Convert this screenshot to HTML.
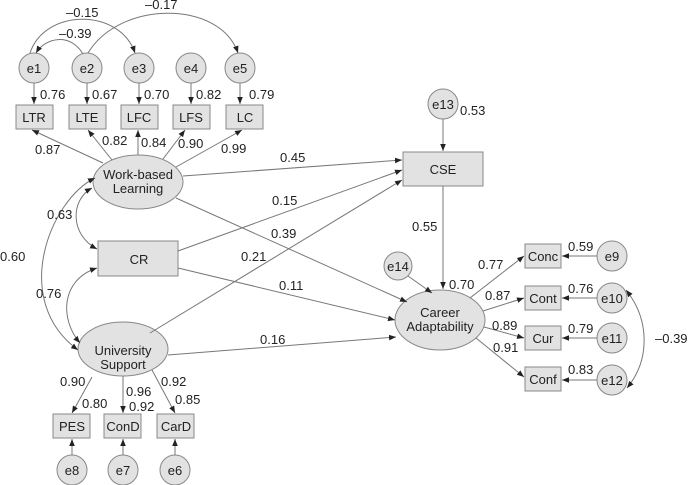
<!DOCTYPE html>
<html><head><meta charset="utf-8"><style>
html,body{margin:0;padding:0;background:#fff;}
svg{display:block;}
text{font-family:"Liberation Sans",Arial,sans-serif;font-size:13px;fill:#222;}
.n{text-anchor:middle;}
</style></head><body>
<svg width="688" height="485" viewBox="0 0 688 485" xmlns="http://www.w3.org/2000/svg">
<defs><marker id="a" viewBox="0 0 10 10" refX="10" refY="5" markerWidth="7" markerHeight="7" orient="auto-start-reverse"><path d="M0,1 L10,5 L0,9 z" fill="#222"/></marker></defs>
<g stroke="#888" fill="#e2e2e2" stroke-width="1">
<circle cx="34" cy="68" r="15"/><circle cx="87" cy="68" r="15"/><circle cx="139" cy="68" r="15"/><circle cx="191" cy="68" r="15"/><circle cx="240" cy="68" r="15"/>
<rect x="16" y="105" width="37" height="24"/><rect x="69" y="105" width="37" height="24"/><rect x="121" y="105" width="37" height="24"/><rect x="173" y="105" width="37" height="24"/><rect x="226" y="105" width="37" height="24"/>
<ellipse cx="138" cy="182" rx="45" ry="27"/>
<rect x="403" y="152" width="80" height="34"/>
<circle cx="443" cy="104" r="15"/>
<rect x="98" y="241" width="80" height="35"/>
<ellipse cx="440" cy="320" rx="45" ry="30"/>
<circle cx="398" cy="266" r="14"/>
<rect x="525" y="244" width="36" height="24"/><rect x="525" y="286" width="36" height="24"/><rect x="525" y="326" width="36" height="24"/><rect x="525" y="367" width="36" height="24"/>
<circle cx="612" cy="256" r="15"/><circle cx="612" cy="298" r="15"/><circle cx="612" cy="338" r="15"/><circle cx="612" cy="380" r="15"/>
<ellipse cx="123" cy="349" rx="45" ry="27"/>
<rect x="53" y="414" width="37" height="24"/><rect x="104" y="414" width="37" height="24"/><rect x="157" y="414" width="37" height="24"/>
<circle cx="72" cy="470" r="15"/><circle cx="123" cy="470" r="15"/><circle cx="175" cy="470" r="15"/>
</g>
<g stroke="#777" fill="none" stroke-width="1" marker-end="url(#a)">
<line x1="34" y1="83" x2="34" y2="104"/><line x1="87" y1="83" x2="87" y2="104"/><line x1="139" y1="83" x2="139" y2="104"/><line x1="191" y1="83" x2="191" y2="104"/><line x1="240" y1="83" x2="240" y2="104"/>
<line x1="103" y1="163" x2="32" y2="130"/><line x1="112" y1="160" x2="88" y2="130"/><line x1="138" y1="155" x2="138" y2="130"/><line x1="163" y1="159" x2="185" y2="130"/><line x1="176" y1="167" x2="242" y2="130"/>
<line x1="183" y1="176" x2="402" y2="160"/>
<line x1="178" y1="251" x2="402" y2="170"/>
<line x1="150" y1="333" x2="402" y2="180"/>
<line x1="176" y1="198" x2="407" y2="302"/>
<line x1="178" y1="268" x2="395" y2="320"/>
<line x1="168" y1="355" x2="396" y2="337"/>
<line x1="443" y1="119" x2="443" y2="151"/>
<line x1="443" y1="186" x2="443" y2="289"/>
<line x1="408" y1="276" x2="432" y2="293"/>
<line x1="470" y1="298" x2="524" y2="256"/><line x1="483" y1="311" x2="524" y2="298"/><line x1="484" y1="327" x2="524" y2="338"/><line x1="476" y1="338" x2="524" y2="377"/>
<line x1="597" y1="256" x2="562" y2="256"/><line x1="597" y1="298" x2="562" y2="298"/><line x1="597" y1="338" x2="562" y2="338"/><line x1="597" y1="380" x2="562" y2="380"/>
<line x1="92" y1="377" x2="72" y2="413"/><line x1="123" y1="376" x2="123" y2="413"/><line x1="152" y1="370" x2="175" y2="413"/>
<line x1="72" y1="455" x2="72" y2="439"/><line x1="123" y1="455" x2="123" y2="439"/><line x1="175" y1="455" x2="175" y2="439"/>
<path d="M83,54 C70,32 45,38 36,53" />
<path d="M30,53 C45,8 120,8 135,53" />
<path d="M88,53 C120,0 220,0 238,53" />
<path d="M95,178 C50,200 10,300 78,350" marker-start="url(#a)"/>
<path d="M92,188 C70,200 70,235 97,249" marker-start="url(#a)"/>
<path d="M97,268 C60,280 60,320 80,343" marker-start="url(#a)"/>
<path d="M626,290 C650,320 650,360 627,388" marker-start="url(#a)"/>
</g>
<g>
<text class="n" x="34" y="73">e1</text><text class="n" x="87" y="73">e2</text><text class="n" x="139" y="73">e3</text><text class="n" x="191" y="73">e4</text><text class="n" x="240" y="73">e5</text>
<text class="n" x="34" y="122">LTR</text><text class="n" x="87" y="122">LTE</text><text class="n" x="139" y="122">LFC</text><text class="n" x="191" y="122">LFS</text><text class="n" x="245" y="122">LC</text>
<text class="n" x="138" y="179">Work-based</text><text class="n" x="138" y="193">Learning</text>
<text class="n" x="443" y="174">CSE</text><text class="n" x="443" y="109">e13</text>
<text class="n" x="139" y="264">CR</text>
<text class="n" x="440" y="317">Career</text><text class="n" x="440" y="331">Adaptability</text>
<text class="n" x="398" y="271">e14</text>
<text class="n" x="543" y="261">Conc</text><text class="n" x="543" y="303">Cont</text><text class="n" x="543" y="343">Cur</text><text class="n" x="543" y="384">Conf</text>
<text class="n" x="612" y="261">e9</text><text class="n" x="612" y="303">e10</text><text class="n" x="612" y="343">e11</text><text class="n" x="612" y="385">e12</text>
<text class="n" x="123" y="355">University</text><text class="n" x="123" y="369">Support</text>
<text class="n" x="72" y="431">PES</text><text class="n" x="123" y="431">ConD</text><text class="n" x="176" y="431">CarD</text>
<text class="n" x="72" y="475">e8</text><text class="n" x="123" y="475">e7</text><text class="n" x="175" y="475">e6</text>
<text x="40" y="99">0.76</text><text x="92" y="99">0.67</text><text x="144" y="99">0.70</text><text x="196" y="99">0.82</text><text x="249" y="99">0.79</text>
<text x="66" y="17">–0.15</text><text x="59" y="38">–0.39</text><text x="145" y="9">–0.17</text>
<text x="35" y="154">0.87</text><text x="102" y="145">0.82</text><text x="141" y="147">0.84</text><text x="178" y="148">0.90</text><text x="221" y="153">0.99</text>
<text x="280" y="162">0.45</text><text x="272" y="205">0.15</text><text x="271" y="238">0.39</text><text x="241" y="261">0.21</text><text x="279" y="290">0.11</text><text x="260" y="344">0.16</text>
<text x="47" y="219">0.63</text><text x="0" y="261">0.60</text><text x="36" y="298">0.76</text>
<text x="460" y="115">0.53</text><text x="412" y="231">0.55</text><text x="449" y="289">0.70</text>
<text x="478" y="269">0.77</text><text x="485" y="300">0.87</text><text x="492" y="330">0.89</text><text x="493" y="352">0.91</text>
<text x="568" y="251">0.59</text><text x="568" y="293">0.76</text><text x="568" y="333">0.79</text><text x="568" y="374">0.83</text>
<text x="655" y="343">–0.39</text>
<text x="60" y="386">0.90</text><text x="82" y="408">0.80</text><text x="126" y="396">0.96</text><text x="129" y="411">0.92</text><text x="161" y="386">0.92</text><text x="175" y="404">0.85</text>
</g>
</svg>
</body></html>
